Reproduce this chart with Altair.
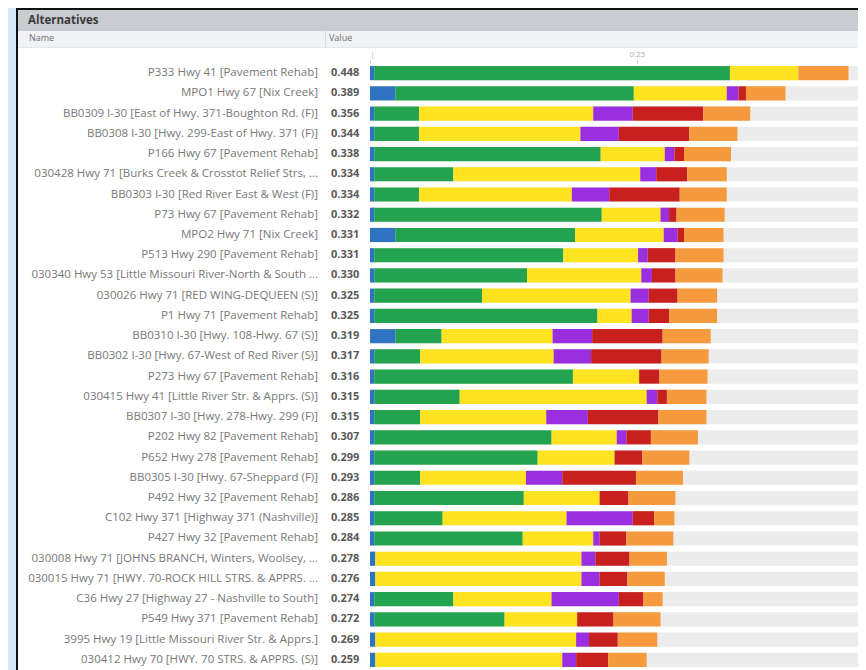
import altair as alt
import pandas as pd

# ---------------- data ----------------
names = [
    "P333 Hwy 41 [Pavement Rehab]",
    "MPO1 Hwy 67 [Nix Creek]",
    "BB0309 I-30 [East of Hwy. 371-Boughton Rd. (F)]",
    "BB0308 I-30 [Hwy. 299-East of Hwy. 371 (F)]",
    "P166 Hwy 67 [Pavement Rehab]",
    "030428 Hwy 71 [Burks Creek & Crosstot Relief Strs, ...",
    "BB0303 I-30 [Red River East & West (F)]",
    "P73 Hwy 67 [Pavement Rehab]",
    "MPO2 Hwy 71 [Nix Creek]",
    "P513 Hwy 290 [Pavement Rehab]",
    "030340 Hwy 53 [Little Missouri River-North & South ...",
    "030026 Hwy 71 [RED WING-DEQUEEN (S)]",
    "P1 Hwy 71 [Pavement Rehab]",
    "BB0310 I-30 [Hwy. 108-Hwy. 67 (S)]",
    "BB0302 I-30 [Hwy. 67-West of Red River (S)]",
    "P273 Hwy 67 [Pavement Rehab]",
    "030415 Hwy 41 [Little River Str. & Apprs. (S)]",
    "BB0307 I-30 [Hwy. 278-Hwy. 299 (F)]",
    "P202 Hwy 82 [Pavement Rehab]",
    "P652 Hwy 278 [Pavement Rehab]",
    "BB0305 I-30 [Hwy. 67-Sheppard (F)]",
    "P492 Hwy 32 [Pavement Rehab]",
    "C102 Hwy 371 [Highway 371 (Nashville)]",
    "P427 Hwy 32 [Pavement Rehab]",
    "030008 Hwy 71 [JOHNS BRANCH, Winters, Woolsey, ...",
    "030015 Hwy 71 [HWY. 70-ROCK HILL STRS. & APPRS. ...",
    "C36 Hwy 27 [Highway 27 - Nashville to South]",
    "P549 Hwy 371 [Pavement Rehab]",
    "3995 Hwy 19 [Little Missouri River Str. & Apprs.]",
    "030412 Hwy 70 [HWY. 70 STRS. & APPRS. (S)]",
]
values = [0.448, 0.389, 0.356, 0.344, 0.338, 0.334, 0.334, 0.332, 0.331, 0.331,
          0.330, 0.325, 0.325, 0.319, 0.317, 0.316, 0.315, 0.315, 0.307, 0.299,
          0.293, 0.286, 0.285, 0.284, 0.278, 0.276, 0.274, 0.272, 0.269, 0.259]

criteria = ["Criterion A", "Criterion B", "Criterion C", "Criterion D", "Criterion E", "Criterion F"]
crit_colors = ["#2f74c0", "#23a34f", "#fde320", "#9a2fe0", "#c81f1f", "#f59b3d"]

seg_a = [0.004, 0.024, 0.004, 0.004, 0.004, 0.004, 0.004, 0.004, 0.024, 0.004,
         0.004, 0.004, 0.004, 0.024, 0.004, 0.004, 0.004, 0.004, 0.004, 0.004,
         0.004, 0.004, 0.004, 0.004, 0.005, 0.005, 0.004, 0.004, 0.005, 0.005]
seg_b = [0.333, 0.223, 0.042, 0.042, 0.212, 0.074, 0.042, 0.213, 0.168, 0.177,
         0.143, 0.101, 0.209, 0.043, 0.043, 0.186, 0.080, 0.043, 0.166, 0.153,
         0.043, 0.140, 0.064, 0.139, 0.000, 0.000, 0.074, 0.122, 0.000, 0.000]
seg_c = [0.064, 0.087, 0.163, 0.151, 0.060, 0.175, 0.143, 0.055, 0.083, 0.070,
         0.107, 0.139, 0.032, 0.104, 0.125, 0.062, 0.175, 0.118, 0.061, 0.072,
         0.099, 0.071, 0.116, 0.066, 0.193, 0.193, 0.092, 0.068, 0.188, 0.175]
seg_d = [0.000, 0.011, 0.037, 0.036, 0.009, 0.015, 0.035, 0.008, 0.013, 0.009,
         0.010, 0.017, 0.016, 0.037, 0.035, 0.000, 0.010, 0.039, 0.009, 0.000,
         0.034, 0.000, 0.062, 0.006, 0.013, 0.017, 0.063, 0.000, 0.012, 0.013]
seg_e = [0.000, 0.007, 0.066, 0.066, 0.009, 0.029, 0.066, 0.007, 0.006, 0.026,
         0.022, 0.027, 0.019, 0.066, 0.066, 0.019, 0.009, 0.066, 0.023, 0.026,
         0.069, 0.027, 0.020, 0.025, 0.032, 0.026, 0.023, 0.034, 0.027, 0.030]
seg_f = [0.047, 0.037, 0.044, 0.045, 0.044, 0.037, 0.044, 0.045, 0.037, 0.045,
         0.044, 0.037, 0.045, 0.045, 0.044, 0.045, 0.037, 0.045, 0.044, 0.044,
         0.044, 0.044, 0.019, 0.044, 0.035, 0.035, 0.018, 0.044, 0.037, 0.036]

axis_ticks = [0, 0.25]
x_max = 0.4569

# ---------------- tables ----------------
segs = [seg_a, seg_b, seg_c, seg_d, seg_e, seg_f]
rows = []
for i, n in enumerate(names):
    for k, c in enumerate(criteria):
        rows.append({"name": n, "criterion": c, "order": k, "part": segs[k][i]})
long_df = pd.DataFrame(rows)
rows_df = pd.DataFrame({"name": names, "value": values,
                        "label": [f"{v:.3f}" for v in values]})

W, H = 488, 607
FONT = "Open Sans"

y_enc = alt.Y("name:N", sort=names, axis=None,
              scale=alt.Scale(domain=names, paddingInner=0.3, paddingOuter=0.15))

one = alt.Data(values=[{"a": 1}])

def rect(x1, x2, y1, y2, color):
    return alt.Chart(one).mark_rect(color=color).encode(
        x=alt.value(x1), x2=alt.value(x2), y=alt.value(y1), y2=alt.value(y2))

def label(txt, x, y, size, color, weight="normal", align="left"):
    return alt.Chart(one).mark_text(
        text=txt, font=FONT, fontSize=size, color=color, fontWeight=weight,
        align=align, baseline="middle").encode(x=alt.value(x), y=alt.value(y))

border = rect(-354, W, -55, H, "#111111")
panel = rect(-352, W, -53, H, "#ffffff")
titlebar = rect(-352, W, -53, -32, "#c9ccd1")
header = rect(-352, W, -32, -16, "#f0f2f5")
header_line = rect(-352, W, -16, -15, "#e4e6ea")
col_sep = rect(-45, -44, -32, -16, "#d9dbdf")

title_txt = label("Alternatives", -342, -42, 11.5, "#3a3a3a", "bold")
name_hdr = label("Name", -341, -25, 9, "#707070")
value_hdr = label("Value", -41, -25, 9, "#707070")

bg_bars = alt.Chart(rows_df).mark_bar(color="#ececec").encode(
    y=y_enc, x=alt.value(0), x2=alt.value(W))

bars = alt.Chart(long_df).mark_bar().encode(
    y=y_enc,
    x=alt.X("part:Q", stack="zero",
            scale=alt.Scale(domain=[0, x_max], nice=False, zero=True),
            axis=alt.Axis(orient="top", values=axis_ticks, title=None,
                          domain=False, grid=False, labelColor="#b0b0b0",
                          labelFontSize=8, labelFont=FONT, tickColor="#c8c8c8",
                          tickSize=3, labelPadding=2, zindex=2, format=".2f",
                          labelExpr="datum.value == 0 ? '|' : datum.label")),
    color=alt.Color("criterion:N", legend=None,
                    scale=alt.Scale(domain=criteria, range=crit_colors)),
    order=alt.Order("order:Q"),
)

name_txt = alt.Chart(rows_df).mark_text(
    align="right", baseline="middle", font=FONT, fontSize=11.5, color="#787878"
).encode(y=y_enc, x=alt.value(-52), text="name:N")

value_txt = alt.Chart(rows_df).mark_text(
    align="left", baseline="middle", font=FONT, fontSize=11, fontWeight="bold",
    color="#595959"
).encode(y=y_enc, x=alt.value(-39), text="label:N")

chart = alt.layer(
    border, panel, titlebar, header, header_line, col_sep,
    title_txt, name_hdr, value_hdr,
    bg_bars, bars, name_txt, value_txt,
).properties(
    width=W, height=H,
    autosize=alt.AutoSizeParams(type="none"),
    padding={"left": 362, "top": 55, "right": 0, "bottom": 0},
    background="#d6e9f7",
).configure_view(stroke=None)

chart.save("out.html", embed_options={"renderer": "svg", "actions": False})
